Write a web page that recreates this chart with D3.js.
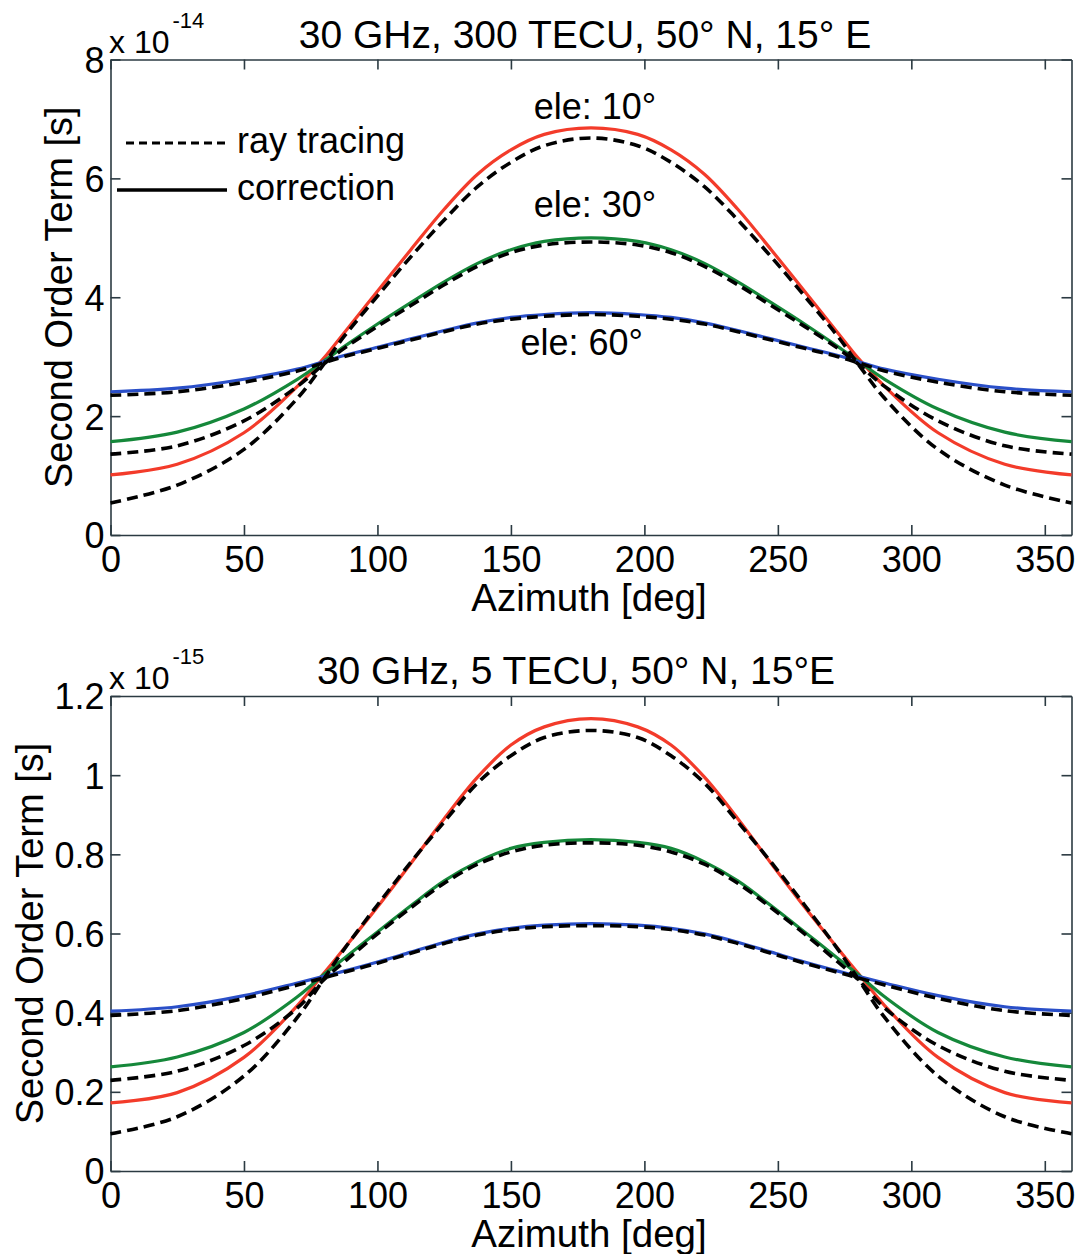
<!DOCTYPE html>
<html>
<head>
<meta charset="utf-8">
<script src="https://cdn.jsdelivr.net/npm/d3@7"></script>
<style>
  html, body { margin: 0; padding: 0; background: #ffffff; }
  svg text { font-family: "Liberation Sans", Arial, Helvetica, sans-serif; fill: #000; }
</style>
</head>
<body>
<svg id="chart" width="1079" height="1254"></svg>
<script>
// ---------------- data ----------------
const azimuth = [0,25,50,70,80,87.5,100,112.5,125,137.5,150,162.5,180,197.5,210,222.5,235,247.5,260,272.5,280,290,310,335,360];
const xTicks = [0,50,100,150,200,250,300,350];

// top panel: 300 TECU (units of 1e-14 s)
const redCorrTop  = [1.01,1.19,1.72,2.50,2.98,3.40,4.10,4.80,5.48,6.07,6.48,6.74,6.85,6.74,6.48,6.07,5.48,4.80,4.10,3.40,2.98,2.50,1.72,1.19,1.01];
const redRayTop   = [0.54,0.84,1.44,2.30,2.88,3.34,4.02,4.68,5.30,5.86,6.27,6.55,6.68,6.55,6.27,5.86,5.30,4.68,4.02,3.34,2.88,2.30,1.44,0.84,0.54];
const greenCorrTop= [1.57,1.73,2.12,2.62,2.93,3.17,3.55,3.91,4.26,4.57,4.80,4.94,5.00,4.94,4.80,4.57,4.26,3.91,3.55,3.17,2.93,2.62,2.12,1.73,1.57];
const greenRayTop = [1.36,1.50,1.92,2.50,2.88,3.14,3.51,3.86,4.21,4.52,4.75,4.88,4.93,4.88,4.75,4.52,4.21,3.86,3.51,3.14,2.88,2.50,1.92,1.50,1.36];
const blueCorrTop = [2.41,2.47,2.62,2.79,2.92,3.02,3.16,3.30,3.44,3.57,3.66,3.71,3.74,3.71,3.66,3.57,3.44,3.30,3.16,3.02,2.92,2.79,2.62,2.47,2.41];
const blueRayTop  = [2.35,2.41,2.57,2.76,2.90,3.00,3.14,3.28,3.42,3.55,3.63,3.68,3.71,3.68,3.63,3.55,3.42,3.28,3.14,3.00,2.90,2.76,2.57,2.41,2.35];
const yTicksTop = [0,2,4,6,8];
const yTickLabelsTop = ["0","2","4","6","8"];

// bottom panel: 5 TECU (units of 1e-15 s)
const redCorrBot  = [0.172,0.198,0.287,0.418,0.500,0.562,0.667,0.777,0.890,0.995,1.076,1.122,1.143,1.122,1.076,0.995,0.890,0.777,0.667,0.562,0.500,0.418,0.287,0.198,0.172];
const redRayBot   = [0.094,0.137,0.240,0.388,0.486,0.560,0.672,0.780,0.882,0.980,1.049,1.095,1.113,1.095,1.049,0.980,0.882,0.780,0.672,0.560,0.486,0.388,0.240,0.137,0.094];
const greenCorrBot= [0.263,0.288,0.350,0.440,0.497,0.537,0.604,0.670,0.733,0.781,0.815,0.830,0.837,0.830,0.815,0.781,0.733,0.670,0.604,0.537,0.497,0.440,0.350,0.288,0.263];
const greenRayBot = [0.229,0.252,0.317,0.412,0.484,0.528,0.599,0.665,0.727,0.775,0.806,0.823,0.829,0.823,0.806,0.775,0.727,0.665,0.599,0.528,0.484,0.412,0.317,0.252,0.229];
const blueCorrBot = [0.404,0.415,0.443,0.475,0.492,0.505,0.528,0.553,0.578,0.599,0.613,0.621,0.625,0.621,0.613,0.599,0.578,0.553,0.528,0.505,0.492,0.475,0.443,0.415,0.404];
const blueRayBot  = [0.393,0.405,0.436,0.470,0.488,0.502,0.525,0.550,0.575,0.596,0.610,0.617,0.620,0.617,0.610,0.596,0.575,0.550,0.525,0.502,0.488,0.470,0.436,0.405,0.393];
const yTicksBot = [0,0.2,0.4,0.6,0.8,1,1.2];
const yTickLabelsBot = ["0","0.2","0.4","0.6","0.8","1","1.2"];

const colors = { red: "#f33b2a", green: "#15883a", blue: "#2a4fc8" };

// ---------------- drawing ----------------
const svg = d3.select("#chart");
const TICKFONT = 36;
const LABFONT = 38.5;
const AX = "#2b3a42";

function panel(cfg) {
  const x = d3.scaleLinear().domain([0, 360]).range([110.5, 1071.5]);
  const y = d3.scaleLinear().domain(cfg.yDomain).range([cfg.bottom, cfg.top]);
  const g = svg.append("g");

  // axes (MATLAB box with inward ticks on all sides)
  const xb = g.append("g").attr("transform", `translate(0,${cfg.bottom})`)
    .call(d3.axisBottom(x).tickValues(xTicks).tickSizeInner(-10).tickSizeOuter(0));
  xb.selectAll("text").attr("y", 37).attr("dy", 0).style("font-size", TICKFONT + "px");
  const xt = g.append("g").attr("transform", `translate(0,${cfg.top})`)
    .call(d3.axisTop(x).tickValues(xTicks).tickSizeInner(-10).tickSizeOuter(0).tickFormat(""));
  const yl = g.append("g").attr("transform", `translate(110.5,0)`)
    .call(d3.axisLeft(y).tickValues(cfg.yTicks).tickSizeInner(-10).tickSizeOuter(0)
      .tickFormat((d, i) => cfg.yLabels[i]));
  yl.selectAll("text").attr("x", -6).attr("dy", "0.36em").style("font-size", TICKFONT + "px");
  const yr = g.append("g").attr("transform", `translate(1071.5,0)`)
    .call(d3.axisRight(y).tickValues(cfg.yTicks).tickSizeInner(-10).tickSizeOuter(0).tickFormat(""));
  [xb, xt, yl, yr].forEach(a => {
    a.attr("font-family", null).attr("font-size", null);
    a.selectAll("path.domain").attr("stroke", AX).attr("stroke-width", 1.6);
    a.selectAll(".tick line").attr("stroke", AX).attr("stroke-width", 1.6);
  });

  // series
  const line = d3.line().x((d, i) => x(azimuth[i])).y(d => y(d)).curve(d3.curveCatmullRom.alpha(0.5));
  const series = [
    { v: cfg.red.corr, c: colors.red }, { v: cfg.green.corr, c: colors.green }, { v: cfg.blue.corr, c: colors.blue }
  ];
  series.forEach(s => g.append("path").attr("d", line(s.v)).attr("fill", "none")
    .attr("stroke", s.c).attr("stroke-width", 3.2));
  [cfg.red.ray, cfg.green.ray, cfg.blue.ray].forEach(v => g.append("path").attr("d", line(v))
    .attr("fill", "none").attr("stroke", "#000").attr("stroke-width", 3.6)
    .attr("stroke-dasharray", "11,6"));

  // title and labels
  g.append("text").attr("x", cfg.titleX).attr("y", cfg.top - 12).attr("text-anchor", "middle")
    .style("font-size", "39px").text(cfg.title);
  const ex = g.append("text").attr("x", 109).attr("y", cfg.top - 7).style("font-size", "32px");
  ex.append("tspan").text("x 10");
  ex.append("tspan").attr("dy", -25).attr("dx", 3).style("font-size", "22px").text(cfg.exp);
  g.append("text").attr("x", 589).attr("y", cfg.bottom + 76).attr("text-anchor", "middle")
    .style("font-size", LABFONT + "px").text("Azimuth [deg]");
  g.append("text").attr("transform", `translate(${cfg.ylabX},${(cfg.top + cfg.bottom) / 2}) rotate(-90)`)
    .attr("text-anchor", "middle").style("font-size", "38px").text("Second Order Term [s]");
  return { g, x, y };
}

const p1 = panel({
  top: 59.5, bottom: 535, yDomain: [0, 8], yTicks: yTicksTop, yLabels: yTickLabelsTop,
  title: "30 GHz, 300 TECU, 50° N, 15° E", titleX: 585, exp: "-14", ylabX: 72,
  red: { corr: redCorrTop, ray: redRayTop },
  green: { corr: greenCorrTop, ray: greenRayTop },
  blue: { corr: blueCorrTop, ray: blueRayTop }
});
const p2 = panel({
  top: 696, bottom: 1171, yDomain: [0, 1.2], yTicks: yTicksBot, yLabels: yTickLabelsBot,
  title: "30 GHz, 5 TECU, 50° N, 15°E", titleX: 576, exp: "-15", ylabX: 43,
  red: { corr: redCorrBot, ray: redRayBot },
  green: { corr: greenCorrBot, ray: greenRayBot },
  blue: { corr: blueCorrBot, ray: blueRayBot }
});

// elevation annotations (top panel)
const eleLabels = [
  { t: "ele: 10°", az: 180, v: 7.0 },
  { t: "ele: 30°", az: 180, v: 5.35 },
  { t: "ele: 60°", az: 175, v: 3.03 }
];
eleLabels.forEach(l => p1.g.append("text").attr("x", p1.x(l.az) + 4).attr("y", p1.y(l.v))
  .attr("text-anchor", "middle").style("font-size", "36px").text(l.t));

// legend (top panel)
const lg = p1.g.append("g");
lg.append("line").attr("x1", 126).attr("x2", 227).attr("y1", 143).attr("y2", 143)
  .attr("stroke", "#000").attr("stroke-width", 3).attr("stroke-dasharray", "8,5");
lg.append("line").attr("x1", 117).attr("x2", 227).attr("y1", 190).attr("y2", 190)
  .attr("stroke", "#000").attr("stroke-width", 3.6);
lg.append("text").attr("x", 237).attr("y", 153).style("font-size", "36px").text("ray tracing");
lg.append("text").attr("x", 237).attr("y", 200).style("font-size", "36px").text("correction");
</script>
</body>
</html>
